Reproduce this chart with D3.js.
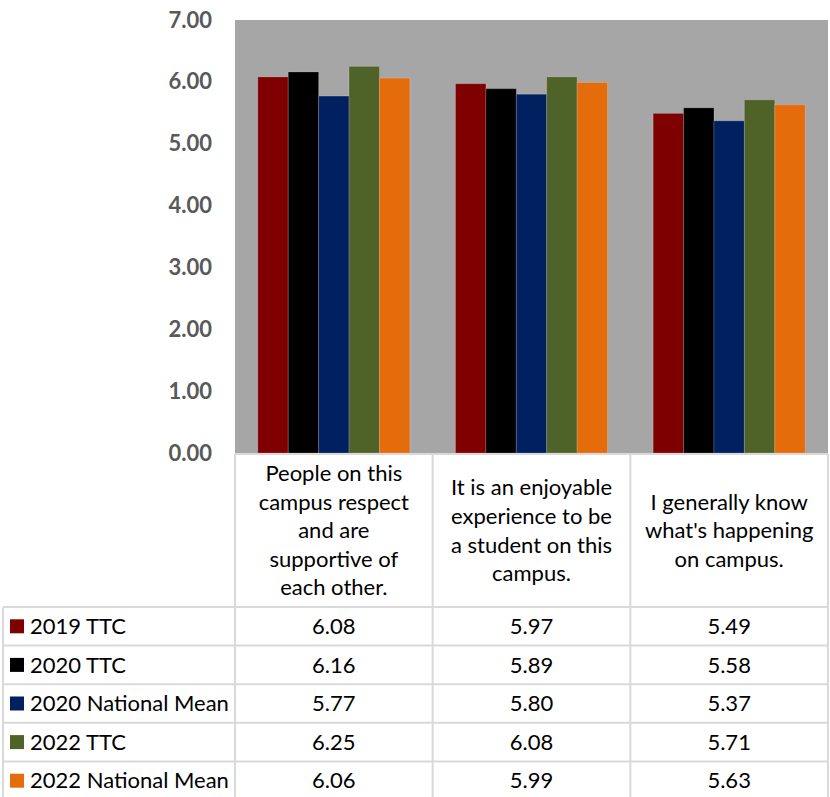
<!DOCTYPE html>
<html>
<head>
<meta charset="utf-8">
<script src="https://cdn.jsdelivr.net/npm/d3@7"></script>
<style>
  html, body { margin: 0; padding: 0; background: #ffffff; }
  svg { display: block; }
  text { font-family: Lato, "Noto Sans", sans-serif; }
</style>
</head>
<body>
<svg id="chart" width="830" height="797"></svg>
<script>
// Survey statements (one per category) and their wrapped header lines
const categories = [
  "People on this campus respect and are supportive of each other.",
  "It is an enjoyable experience to be a student on this campus.",
  "I generally know what's happening on campus."
];
const categoryLines = [
  ["People on this", "campus respect", "and are", "supportive of", "each other."],
  ["It is an enjoyable", "experience to be", "a student on this", "campus."],
  ["I generally know", "what's happening", "on campus."]
];

// Series names and colours
const seriesNames = ["2019 TTC", "2020 TTC", "2020 National Mean", "2022 TTC", "2022 National Mean"];
const seriesColors = ["#7f0000", "#000000", "#002060", "#4f6228", "#e46c0a"];

// Mean scores, one array per series (in category order)
const values2019TTC = [6.08, 5.97, 5.49];
const values2020TTC = [6.16, 5.89, 5.58];
const values2020National = [5.77, 5.80, 5.37];
const values2022TTC = [6.25, 6.08, 5.71];
const values2022National = [6.06, 5.99, 5.63];
const seriesValues = [values2019TTC, values2020TTC, values2020National, values2022TTC, values2022National];

// Y axis ticks
const yTicks = [0, 1, 2, 3, 4, 5, 6, 7];

const svg = d3.select("#chart");

const plotLeft = 235, plotRight = 828, plotTop = 20, plotBottom = 453;
const tableLeft = 3;
const headerTop = 454, headerBottom = 607, rowH = 38.6;

const x0 = d3.scaleBand()
  .domain(categories)
  .range([plotLeft, plotRight])
  .paddingInner(0.231)
  .paddingOuter(0.1155);

const x1 = d3.scaleBand()
  .domain(seriesNames)
  .range([0, x0.bandwidth()]);

const y = d3.scaleLinear().domain([0, 7]).range([plotBottom, plotTop]);

// Plot background
svg.append("rect")
  .attr("x", plotLeft).attr("y", plotTop)
  .attr("width", plotRight - plotLeft).attr("height", plotBottom - plotTop)
  .attr("fill", "#a6a6a6");

// Bars
const groups = svg.append("g").selectAll("g")
  .data(categories)
  .join("g")
  .attr("transform", d => `translate(${x0(d)},0)`);

groups.selectAll("rect")
  .data((c, ci) => seriesNames.map((s, si) => ({ s, si, v: seriesValues[si][ci] })))
  .join("rect")
  .attr("x", d => x1(d.s))
  .attr("y", d => y(d.v))
  .attr("width", x1.bandwidth())
  .attr("height", d => y(0) - y(d.v))
  .attr("fill", d => seriesColors[d.si])
  .attr("stroke", "rgba(255,255,255,0.18)")
  .attr("stroke-width", 1);

// Y axis
const yAxis = svg.append("g")
  .attr("transform", `translate(${plotLeft},0)`)
  .call(d3.axisLeft(y).tickValues(yTicks).tickFormat(d3.format(".2f")).tickSize(0).tickPadding(23));
yAxis.select(".domain").remove();
yAxis.selectAll("text")
  .attr("fill", "#595959")
  .style("font-family", "Lato, 'Noto Sans', sans-serif")
  .style("font-size", "22px")
  .style("font-weight", "bold");

// Data table
const table = svg.append("g");
const gridColor = "#d9d9d9";
const step = x0.step();
const colEdges = d3.range(categories.length + 1).map(i => plotLeft + i * step);
const rowEdges = d3.range(seriesNames.length + 1).map(i => headerBottom + i * rowH);

// Header cell borders
table.append("line")
  .attr("x1", plotLeft).attr("x2", plotRight)
  .attr("y1", headerTop).attr("y2", headerTop)
  .attr("stroke", gridColor).attr("stroke-width", 2);
colEdges.forEach(xv => {
  table.append("line")
    .attr("x1", xv).attr("x2", xv)
    .attr("y1", headerTop).attr("y2", rowEdges[rowEdges.length - 1] + 2)
    .attr("stroke", gridColor).attr("stroke-width", 2);
});
// Legend column left border
table.append("line")
  .attr("x1", tableLeft).attr("x2", tableLeft)
  .attr("y1", headerBottom).attr("y2", rowEdges[rowEdges.length - 1] + 2)
  .attr("stroke", gridColor).attr("stroke-width", 2);
// Row borders
rowEdges.forEach(yv => {
  table.append("line")
    .attr("x1", tableLeft).attr("x2", plotRight)
    .attr("y1", yv).attr("y2", yv)
    .attr("stroke", gridColor).attr("stroke-width", 2);
});

// Category header text
const lineH = 28.6;
categories.forEach((c, ci) => {
  const lines = categoryLines[ci];
  const cx = x0(c) + x0.bandwidth() / 2;
  const cy = (headerTop + headerBottom) / 2;
  const t = table.append("text")
    .attr("text-anchor", "middle")
    .attr("fill", "#000000")
    .style("font-size", "22px");
  lines.forEach((ln, li) => {
    t.append("tspan")
      .attr("x", cx)
      .attr("y", cy + (li - (lines.length - 1) / 2) * lineH)
      .attr("dy", "0.35em")
      .text(ln);
  });
});

// Legend rows with values
seriesNames.forEach((s, si) => {
  const cy = rowEdges[si] + rowH / 2;
  table.append("rect")
    .attr("x", 10).attr("y", cy - 7)
    .attr("width", 14).attr("height", 14)
    .attr("fill", seriesColors[si]);
  table.append("text")
    .attr("x", 30).attr("y", cy).attr("dy", "0.35em")
    .attr("fill", "#000000")
    .style("font-size", "22px")
    .text(s);
  categories.forEach((c, ci) => {
    table.append("text")
      .attr("x", x0(c) + x0.bandwidth() / 2)
      .attr("y", cy).attr("dy", "0.35em")
      .attr("text-anchor", "middle")
      .attr("fill", "#000000")
      .style("font-size", "22px")
      .text(d3.format(".2f")(seriesValues[si][ci]));
  });
});
</script>
</body>
</html>
